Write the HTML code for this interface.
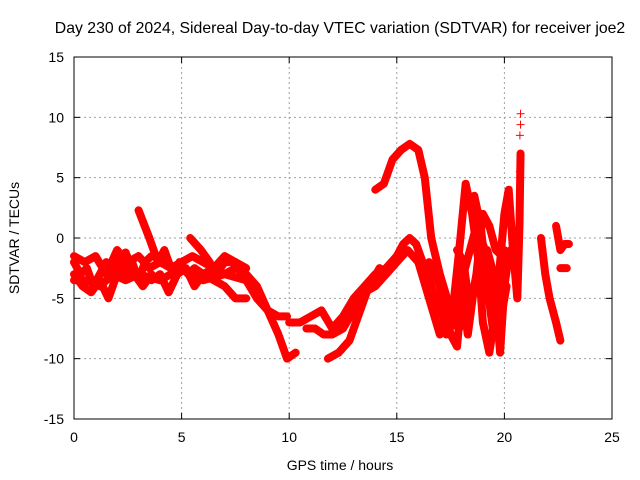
<!DOCTYPE html>
<html><head><meta charset="utf-8"><style>
body{margin:0;background:#fff;}
svg{display:block;font-family:"Liberation Sans",sans-serif;}
</style></head><body>
<svg id="chart" width="640" height="480">
<rect width="640" height="480" fill="#fff"/>
<text x="340" y="33" text-anchor="middle" font-size="15.8">Day 230 of 2024, Sidereal Day-to-day VTEC variation (SDTVAR) for receiver joe2</text>
<g id="grid"></g>
<g id="axes"></g>
<g id="series"></g>
<text x="340" y="470" text-anchor="middle" font-size="14">GPS time / hours</text>
<text transform="translate(19,238) rotate(-90)" text-anchor="middle" font-size="14">SDTVAR / TECUs</text>
</svg>
<script>
const xTicks=[0,5,10,15,20,25];
const yTicks=[-15,-10,-5,0,5,10,15];
const track1=[[0,-2],[0.3,-3],[0.6,-2.5],[0.9,-4],[1.2,-3],[1.5,-2],[1.8,-3.5],[2.1,-1.5],[2.4,-3],[2.7,-2],[3,-3.5],[3.3,-2],[3.6,-1.5]];
const track2=[[0,-3],[0.4,-4],[0.8,-4.5],[1.2,-3.5],[1.6,-5],[2,-3],[2.4,-1.2],[2.8,-3],[3.2,-4],[3.6,-3]];
const track3=[[3,2.3],[3.5,0],[3.9,-2],[4.2,-1],[4.6,-3],[4.9,-2],[5.3,-3],[5.6,-2.5],[6,-3],[6.5,-2.5],[7,-3],[7.5,-2.5],[8,-3],[8.5,-4],[9,-6],[9.5,-8],[9.9,-10],[10.3,-9.5]];
const track4=[[5.4,0],[5.9,-1],[6.3,-2],[6.6,-3],[7,-2],[7.5,-2],[8,-3.5],[8.5,-5],[9,-6],[9.5,-6.5],[9.9,-6.5]];
const track5=[[3.6,-3.5],[4,-3],[4.4,-4.5],[4.8,-3],[5.2,-2.5],[5.6,-4],[6,-3],[7,-4],[7.5,-5],[8,-5]];
const track6=[[10,-7],[10.5,-7],[11,-6.5],[11.5,-6],[12,-7.5],[12.5,-6.5],[13,-5],[13.5,-4],[14,-3],[14.5,-2.5],[15,-1.5],[15.3,-0.5],[15.6,0],[15.9,-0.5],[16.2,-2],[16.6,-4],[17,-6],[17.4,-7.5],[17.8,-7]];
const track7=[[10.8,-7.5],[11.2,-7.5],[11.6,-8],[12,-8],[12.5,-7.5],[13,-6],[13.5,-4.5],[14,-4],[14.5,-3],[15,-2],[15.5,-1],[16,-2],[16.5,-5],[17,-8]];
const track8=[[11.8,-10],[12.3,-9.5],[12.8,-8.5],[13.3,-6],[13.7,-4],[14.2,-2.5]];
const track9=[[14,4],[14.4,4.5],[14.8,6.5],[15.2,7.3],[15.6,7.8],[16,7.3],[16.3,5],[16.6,0],[17,-3],[17.5,-6],[17.9,-7.5]];
const track10=[[17,-5],[17.3,-8],[17.6,-6],[17.9,-1],[18.2,4.5],[18.5,2],[18.8,-2],[19,-7],[19.3,-9.5],[19.6,-6],[19.8,-2],[20,2],[20.2,4],[20.4,-1],[20.6,-5],[20.7,1],[20.75,7]];
const track11=[[16.5,-2],[17,-4],[17.5,-8],[17.8,-9],[18.1,-3],[18.4,-1],[18.7,1],[19,-0.5],[19.3,-2],[19.6,-5],[19.8,-9.5],[20,-4],[20.2,-1.5],[20.5,-1]];
const track12=[[18,-4],[18.3,-8],[18.6,-4],[18.9,-2],[19.2,-1],[19.5,-3],[19.8,-7],[20.1,-4]];
const track13=[[21.7,0],[21.9,-3],[22.1,-5],[22.4,-7],[22.6,-8.5]];
const track14=[[22.4,1],[22.6,-1],[22.8,-0.5],[23,-0.5]];
const track15=[[22.6,-2.5],[22.9,-2.5]];
const track16=[[0,-1.5],[0.5,-2],[1,-1.5],[1.5,-3],[2,-1],[2.5,-2],[3,-1.5],[3.5,-2.5],[4,-2],[4.5,-2.5],[5,-2],[5.5,-1.5],[6,-2],[6.5,-2.5],[7,-1.5],[7.5,-2],[8,-2.5]];
const track17=[[0,-3.5],[0.6,-3.5],[1.2,-4],[1.8,-3],[2.4,-3.5],[3,-3],[4,-3.5],[5,-2.5],[6,-3.5],[7,-3],[8,-3.5],[8.6,-4.5]];
const track18=[[17.8,-1],[18.1,-2],[18.4,-6],[18.7,-3],[19,2],[19.3,1],[19.6,-1],[19.9,-1.5],[20.3,-1]];
const track19=[[18.6,3.5],[18.9,1],[19.2,-4],[19.5,-8],[19.7,-5],[20,-1]];
const sparse=[[20.75,10.3],[20.75,9.4],[20.72,8.5],[20.75,6.8],[20.72,5.5]];
const tracks=[track1,track2,track3,track4,track5,track6,track7,track8,track9,track10,track11,track12,track13,track14,track15,track16,track17,track18,track19];

const NS="http://www.w3.org/2000/svg";
const L=74,R=612,T=57,B=419;
const sx=v=>L+(v-0)/25*(R-L);
const sy=v=>B-(v+15)/30*(B-T);
function mk(tag,attrs,parent){const e=document.createElementNS(NS,tag);for(const k in attrs)e.setAttribute(k,attrs[k]);parent.appendChild(e);return e;}
const grid=document.getElementById('grid'),axes=document.getElementById('axes'),ser=document.getElementById('series');
xTicks.forEach(t=>{
  if(t>0&&t<25){const g=mk('line',{x1:sx(t),x2:sx(t),y1:T,y2:B,stroke:'#a0a0a0','stroke-dasharray':'2,3'},grid);
  
  }
  const lb=mk('text',{x:sx(t),y:B+23,'text-anchor':'middle','font-size':14},axes);lb.textContent=t;
  
  
  mk('line',{x1:sx(t),x2:sx(t),y1:B,y2:B-6,stroke:'#000'},axes);
  mk('line',{x1:sx(t),x2:sx(t),y1:T,y2:T+6,stroke:'#000'},axes);
});
yTicks.forEach(t=>{
  if(t>-15&&t<15){const g=mk('line',{x1:L,x2:R,y1:sy(t),y2:sy(t),stroke:'#a0a0a0','stroke-dasharray':'2,3'},grid);
  
  }
  const lb=mk('text',{x:L-10,y:sy(t)+5,'text-anchor':'end','font-size':14},axes);lb.textContent=t;
  
  
  mk('line',{x1:L,x2:L+6,y1:sy(t),y2:sy(t),stroke:'#000'},axes);
  mk('line',{x1:R,x2:R-6,y1:sy(t),y2:sy(t),stroke:'#000'},axes);
});
const fr=mk('rect',{x:L,y:T,width:R-L,height:B-T,fill:'none',stroke:'#000'},axes);


tracks.forEach(tr=>{
  const p=mk('polyline',{points:tr.map(d=>sx(d[0])+','+sy(d[1])).join(' '),fill:'none',stroke:'#f00','stroke-width':8,'stroke-linejoin':'round','stroke-linecap':'round'},ser);
  
  
});
sparse.forEach(d=>{
  const x=sx(d[0]),y=sy(d[1]);
  const p=mk('path',{d:`M${x-4},${y}H${x+4}M${x},${y-4}V${y+4}`,stroke:'#f00','stroke-width':1},ser);
  
  
});
</script>
</body></html>
